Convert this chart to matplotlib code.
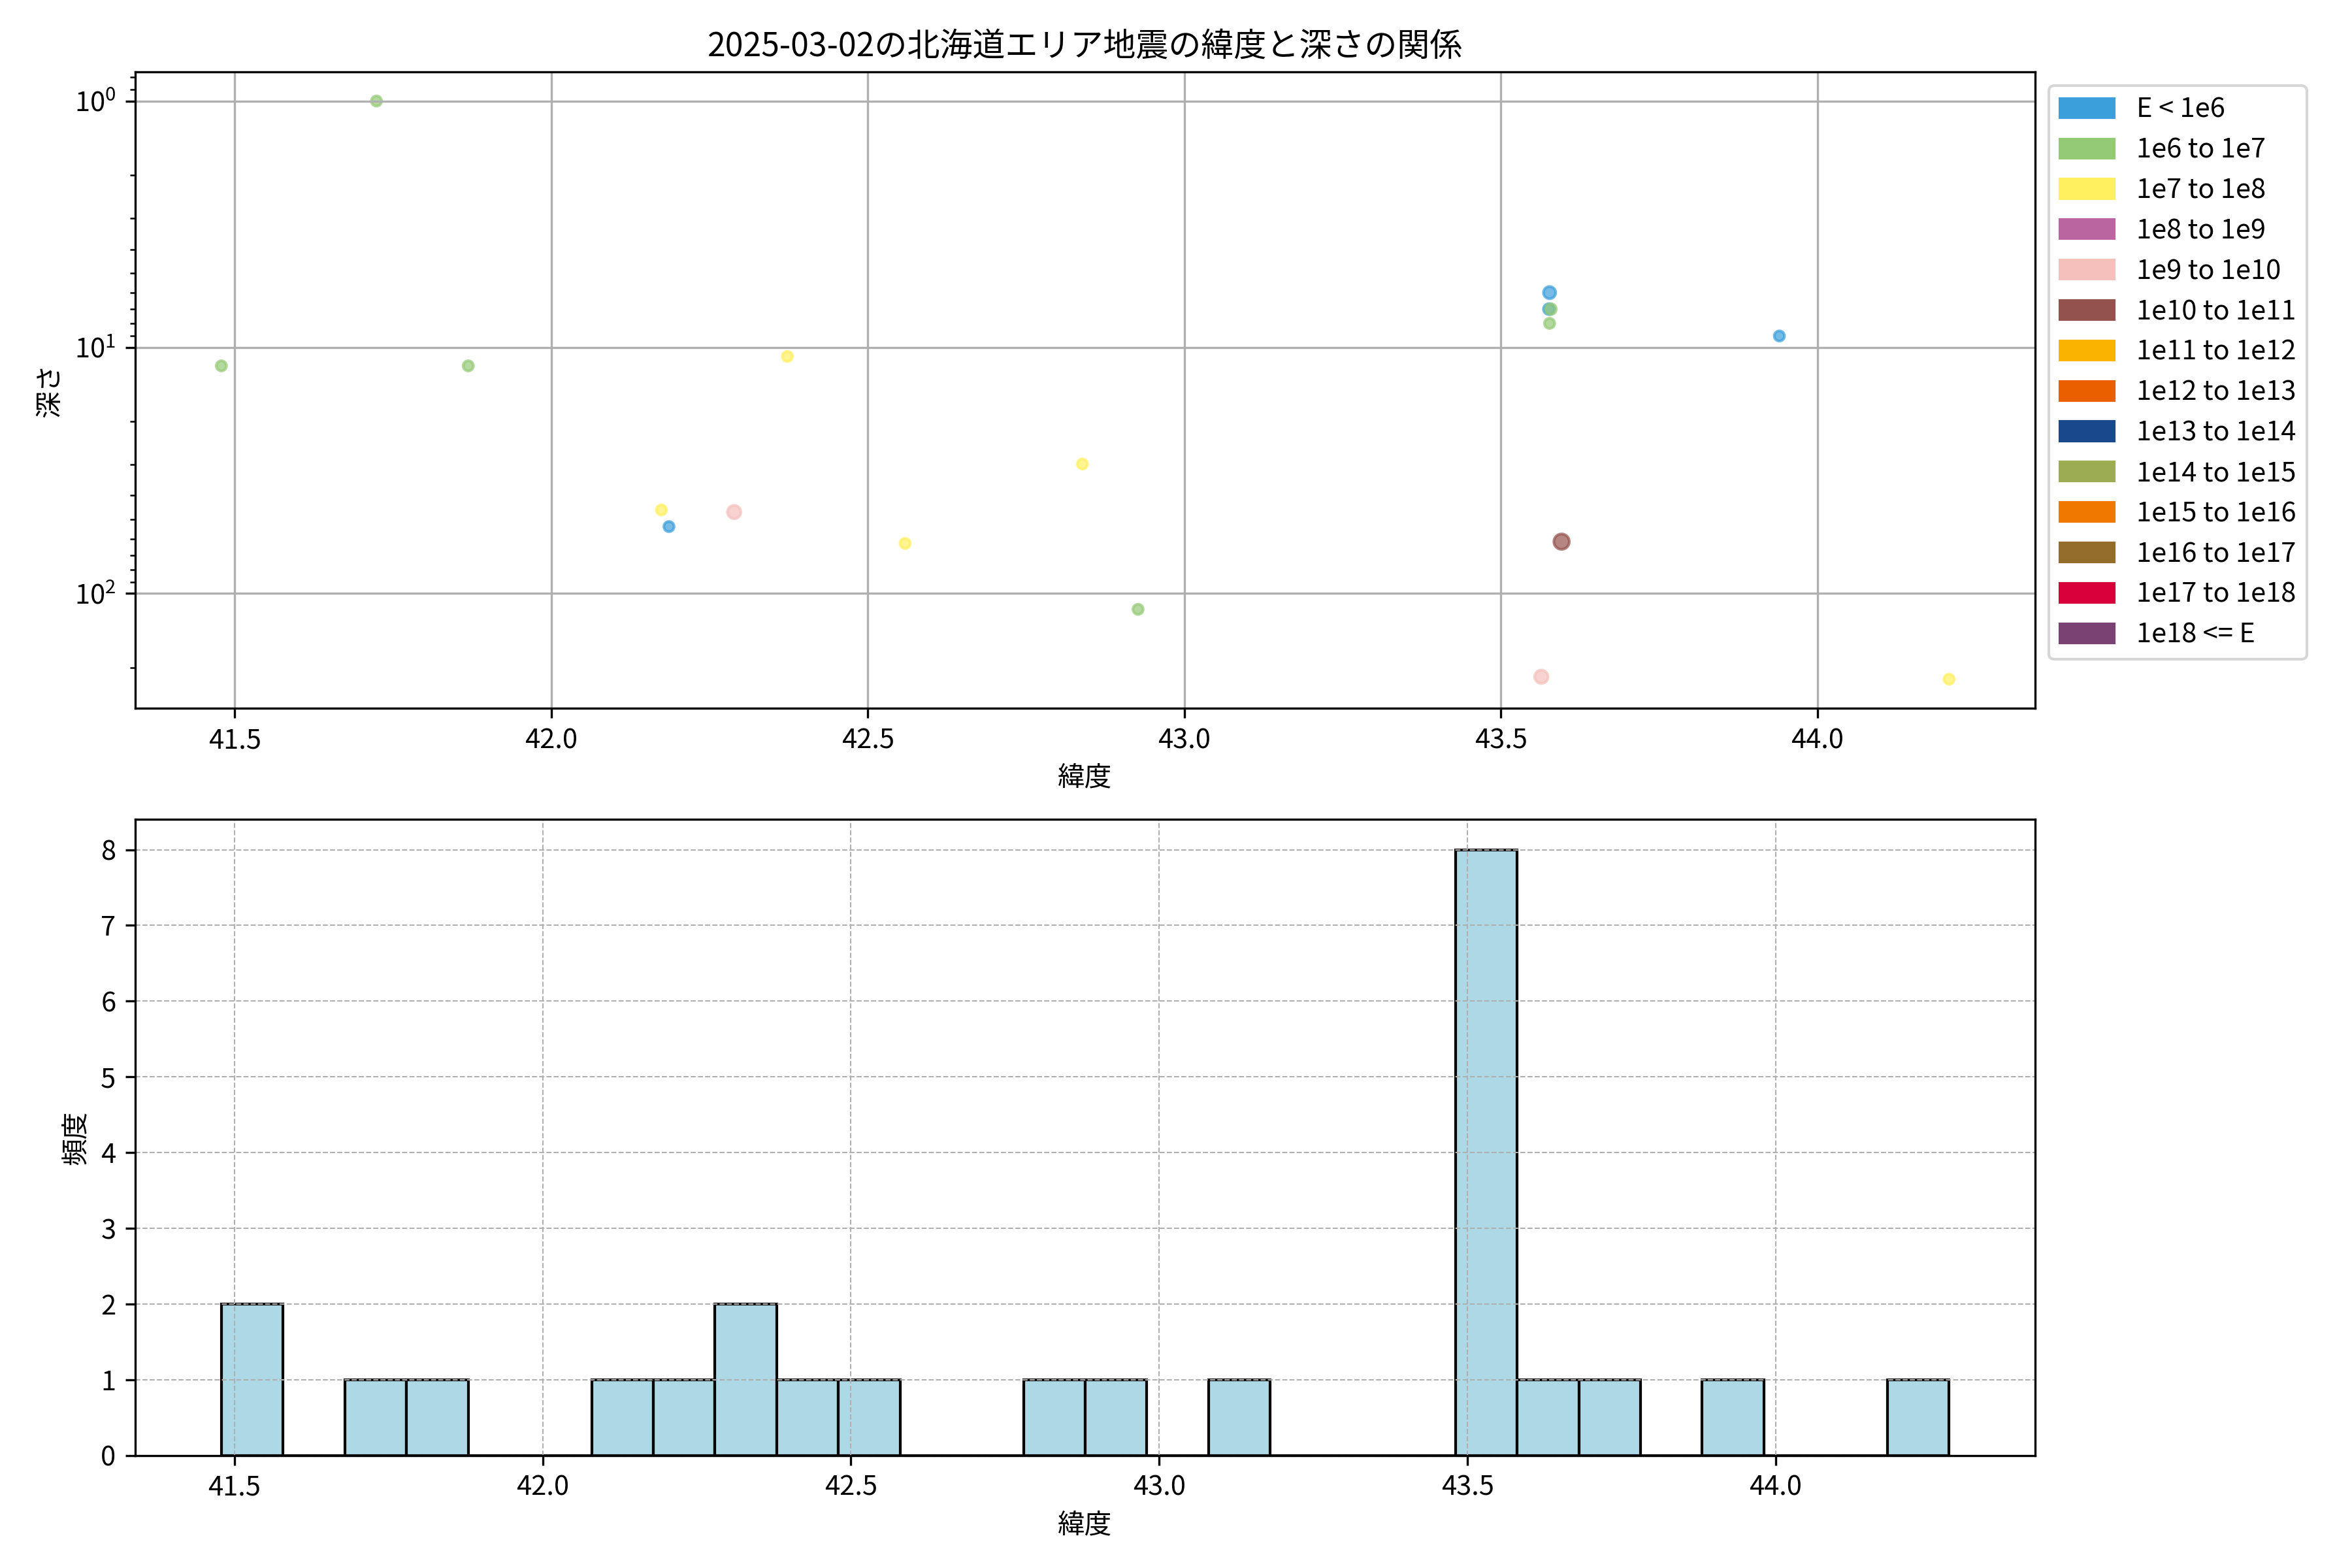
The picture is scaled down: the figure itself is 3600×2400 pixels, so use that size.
import numpy as np
import matplotlib
matplotlib.use("Agg")
from matplotlib import pyplot as plt
import matplotlib.patches as mpatches

plt.rcParams['font.family'] = ['Noto Sans CJK JP', 'DejaVu Sans']

# energy classes (legend) and their colours
energy_labels = ["E < 1e6", "1e6 to 1e7", "1e7 to 1e8", "1e8 to 1e9", "1e9 to 1e10",
                 "1e10 to 1e11", "1e11 to 1e12", "1e12 to 1e13", "1e13 to 1e14",
                 "1e14 to 1e15", "1e15 to 1e16", "1e16 to 1e17", "1e17 to 1e18", "1e18 <= E"]
energy_colors = ["#3a9fdb", "#94ca76", "#fff060", "#ba64a0", "#f5c0bc",
                 "#94524c", "#f8b400", "#ea6000", "#1a488c",
                 "#9cac52", "#f07800", "#946c2c", "#d8003a", "#7a4272"]

# scatter: latitude, depth (km), energy class index, marker size
sc_lat = [41.724, 41.479, 41.869, 42.373, 42.174, 42.186, 42.289, 42.559, 42.839,
          42.927, 43.577, 43.576, 43.579, 43.577, 43.940, 43.596, 43.564, 44.208]
sc_depth = [1.0, 11.9, 11.9, 10.9, 45.8, 53.5, 46.7, 62.6, 29.8,
            116, 6.0, 7.0, 7.0, 8.0, 9.0, 61.6, 218, 223]
sc_class = [1, 1, 1, 2, 2, 0, 4, 2, 2,
            1, 0, 0, 1, 1, 0, 5, 4, 2]
sc_size = [14, 14, 14, 14, 14, 14, 24, 14, 14,
           14, 20, 16, 16, 14, 14, 32, 24, 14]

# histogram latitudes
hist_lat = [41.479, 41.480, 41.724, 41.869, 42.174, 42.186, 42.289, 42.373, 42.420,
            42.559, 42.839, 42.927, 43.130, 43.564, 43.577, 43.577, 43.577, 43.577,
            43.575, 43.570, 43.550, 43.596, 43.720, 43.940, 44.281]

fig, (ax1, ax2) = plt.subplots(2, 1, figsize=(12, 8), dpi=300)
fig.subplots_adjust(left=0.0574, right=0.8654, top=0.954, bottom=0.0718, hspace=0.175)

cols = [energy_colors[c] for c in sc_class]
ax1.scatter(sc_lat, sc_depth, c=cols, s=sc_size, alpha=0.7)
ax1.set_yscale('log')
ax1.invert_yaxis()
ax1.grid(True)
ax1.set_xlabel("緯度")
ax1.set_ylabel("深さ")
ax1.set_title("2025-03-02の北海道エリア地震の緯度と深さの関係")

handles = [mpatches.Patch(color=energy_colors[i], label=energy_labels[i]) for i in range(len(energy_labels))]
ax1.legend(handles=handles, bbox_to_anchor=(1.0, 1.0), loc='upper left')

ax2.hist(hist_lat, bins=28, color='lightblue', edgecolor='black')
ax2.grid(True, linestyle='--', linewidth=0.5)
ax2.set_xlabel("緯度")
ax2.set_ylabel("頻度")

plt.savefig("out.png")
